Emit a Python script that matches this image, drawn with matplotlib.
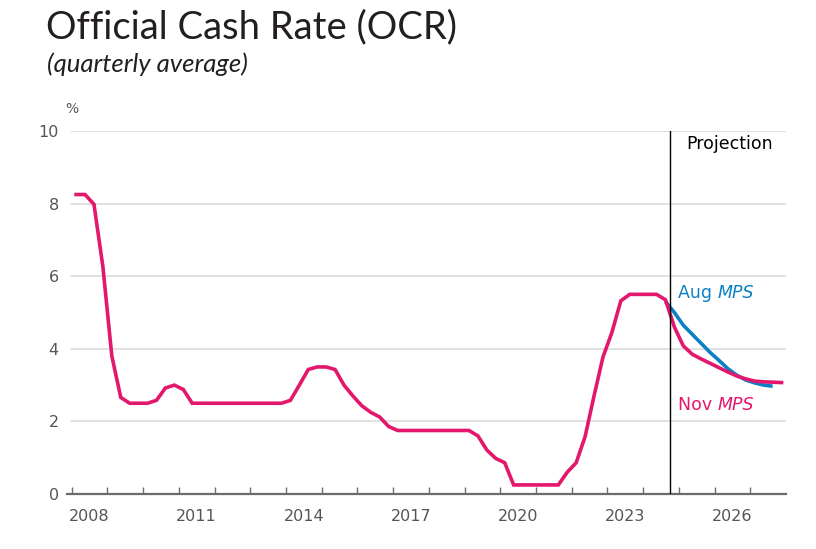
import numpy as np
import matplotlib
matplotlib.use("Agg")
import matplotlib.pyplot as plt

PINK = "#E3176B"
BLUE = "#0B80C4"
GREY = "#555555"

# quarterly averages, 2008 Q1 onwards
history = [
    8.25, 8.25, 7.98, 6.26,        # 2008
    3.80, 2.66, 2.50, 2.50,        # 2009
    2.50, 2.58, 2.92, 3.00,        # 2010
    2.88, 2.50, 2.50, 2.50,        # 2011
    2.50, 2.50, 2.50, 2.50,        # 2012
    2.50, 2.50, 2.50, 2.50,        # 2013
    2.58, 3.00, 3.43, 3.50,        # 2014
    3.50, 3.43, 3.00, 2.70,        # 2015
    2.43, 2.25, 2.12, 1.86,        # 2016
    1.75, 1.75, 1.75, 1.75,        # 2017
    1.75, 1.75, 1.75, 1.75,        # 2018
    1.75, 1.60, 1.21, 0.98,        # 2019
    0.86, 0.25, 0.25, 0.25,        # 2020
    0.25, 0.25, 0.25, 0.60,        # 2021
    0.86, 1.58, 2.70, 3.77,        # 2022
    4.45, 5.32, 5.50, 5.50,        # 2023
    5.50, 5.50, 5.35,              # 2024 Q1-Q3
]
nov_mps = [5.35, 4.60, 4.08, 3.85, 3.72, 3.60, 3.48, 3.36, 3.25, 3.17,
           3.11, 3.09, 3.08, 3.07]      # 2024 Q3 - 2027 Q4
aug_mps = [5.30, 5.00, 4.65, 4.40, 4.15, 3.90, 3.68, 3.45, 3.27, 3.14,
           3.06, 3.00, 2.97]            # 2024 Q3 - 2027 Q3
year_labels = ["2008", "2011", "2014", "2017", "2020", "2023", "2026"]

start_q = len(history) - 1
x_hist = 2008 + (np.arange(len(history)) + 0.5) / 4
x_nov = 2008 + (np.arange(start_q, start_q + len(nov_mps)) + 0.5) / 4
x_aug = 2008 + (np.arange(start_q, start_q + len(aug_mps)) + 0.5) / 4

fig = plt.figure(figsize=(8.16, 5.49), dpi=100)
ax = fig.add_axes([67 / 816, 55 / 549, 719 / 816, 363 / 549])

ax.set_xlim(2007.87, 2028.0)
ax.set_ylim(0, 10)

for y in [2, 4, 6, 8, 10]:
    ax.axhline(y, xmin=0.006, color="#d9d9d9", lw=1.1, zorder=0)

ax.plot(x_aug, aug_mps, color=BLUE, lw=2.6, solid_capstyle="butt", zorder=3)
ax.plot(np.r_[x_hist, x_nov[1:]], history + nov_mps[1:], color=PINK, lw=2.6,
        solid_joinstyle="miter", zorder=4)

ax.axvline(2024.75, color="black", lw=1, zorder=5)

for s in ["top", "right", "left"]:
    ax.spines[s].set_visible(False)
ax.spines["bottom"].set_color("#6b6b6b")
ax.spines["bottom"].set_linewidth(1.6)

ax.set_yticks([0, 2, 4, 6, 8, 10])
ax.set_yticklabels(["0", "2", "4", "6", "8", "10"])
ax.tick_params(axis="y", length=0, pad=6, labelsize=11.5, labelcolor=GREY)

ax.set_xticks(np.arange(2008, 2028))
ax.set_xticklabels([])
ax.tick_params(axis="x", which="major", length=5, width=1, color="#6b6b6b", direction="in")
for i, lab in enumerate(year_labels):
    ax.text(2008.5 + 3 * i, -0.42, lab, ha="center", va="top", fontsize=11.5,
            color=GREY)

ax.text(-0.003, 1.06, "%", transform=ax.transAxes, fontsize=10, color=GREY,
        ha="left", va="center")

ax.text(2025.2, 9.65, "Projection", fontsize=12.5, color="black", va="center", ha="left")

renderer = fig.canvas.get_renderer()
for word, yv, col in [("Aug", 5.55, BLUE), ("Nov", 2.45, PINK)]:
    t = ax.text(2024.98, yv, word + " ", fontsize=12.5, color=col, va="center", ha="left")
    bb = t.get_window_extent(renderer=renderer)
    x_end = ax.transData.inverted().transform((bb.x1, bb.y0))[0]
    ax.text(x_end, yv, "MPS", fontsize=12.5, color=col, va="center", ha="left",
            style="italic")

fig.text(46 / 816, 1 - 27 / 549, "Official Cash Rate (OCR)", fontsize=27.5,
         color="#231f20", family="Lato", va="center", ha="left")
fig.text(47 / 816, 1 - 64 / 549, "(quarterly average)", fontsize=18.5,
         color="#231f20", family="Lato", style="italic", va="center", ha="left")

fig.savefig("out.png", dpi=100)
